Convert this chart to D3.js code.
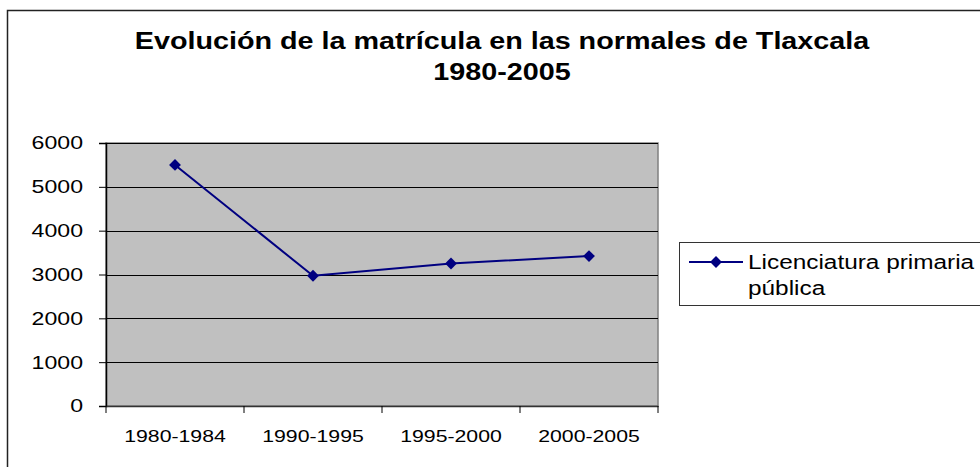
<!DOCTYPE html>
<html lang="es">
<head>
<meta charset="utf-8">
<title>Evolución de la matrícula</title>
<style>
  body { margin: 0; background: #fff; }
  svg text { font-family: "Liberation Sans", Arial, sans-serif; fill: #000; }
</style>
</head>
<body>
<svg></svg>
<script src="https://d3js.org/d3.v7.min.js"></script>
<script>
// data
var periods = ["1980-1984", "1990-1995", "1995-2000", "2000-2005"];
var matricula = [5500, 2970, 3250, 3420];
var yTicks = [0, 1000, 2000, 3000, 4000, 5000, 6000];
var seriesName = ["Licenciatura primaria", "pública"];
var titleLines = ["Evolución de la matrícula en las normales de Tlaxcala", "1980-2005"];

var width = 980, height = 467;
// the original picture is stretched sideways, text is widened to match
var stretch = 1.25;

var svg = d3.select("svg").attr("width", width).attr("height", height);

// outer chart border (runs off the right and bottom)
svg.append("rect")
  .attr("x", 7.5).attr("y", 10.5)
  .attr("width", 1000).attr("height", 500)
  .attr("fill", "#fff").attr("stroke", "#222").attr("stroke-width", 1.5);

var plot = { left: 106, top: 143, right: 658, bottom: 406 };

var x = d3.scaleBand().domain(periods).range([plot.left, plot.right]);
var y = d3.scaleLinear().domain([0, 6000]).range([plot.bottom, plot.top]);

// plot area
svg.append("rect")
  .attr("x", plot.left).attr("y", plot.top)
  .attr("width", plot.right - plot.left).attr("height", plot.bottom - plot.top)
  .attr("fill", "#c0c0c0").attr("stroke", "#808080").attr("stroke-width", 1.5);

// gridlines
svg.append("g").selectAll("line")
  .data(yTicks.filter(function(d) { return d > 0; }))
  .enter().append("line")
  .attr("x1", plot.left).attr("x2", plot.right)
  .attr("y1", function(d) { return Math.round(y(d)) + 0.5; })
  .attr("y2", function(d) { return Math.round(y(d)) + 0.5; })
  .attr("stroke", "#000").attr("stroke-width", 1);

// y axis
var yAxis = svg.append("g")
  .attr("transform", "translate(" + plot.left + ",0)")
  .call(d3.axisLeft(y).tickValues(yTicks).tickSize(7).tickPadding(11.4).tickFormat(d3.format("d")));
yAxis.select(".domain").attr("stroke", "#000").attr("stroke-width", 1.5);
yAxis.selectAll(".tick line").attr("stroke", "#000");
yAxis.selectAll("text")
  .attr("font-size", "18.5px")
  .attr("transform", "scale(" + stretch + ",1)")
  .attr("font-family", "Liberation Sans, Arial, sans-serif")
  .attr("fill", "#000");

// x axis
var xAxis = svg.append("g")
  .attr("transform", "translate(0," + plot.bottom + ")")
  .call(d3.axisBottom(x).tickSize(0).tickPadding(24));
xAxis.select(".domain").attr("stroke", "#333").attr("stroke-width", 1.5);
xAxis.selectAll("text")
  .attr("font-size", "17px")
  .attr("transform", "scale(" + stretch + ",1)")
  .attr("font-family", "Liberation Sans, Arial, sans-serif")
  .attr("fill", "#000");
// category boundary ticks
xAxis.append("g").selectAll("line")
  .data(periods.concat(["end"]))
  .enter().append("line")
  .attr("x1", function(d, i) { return plot.left + i * x.step(); })
  .attr("x2", function(d, i) { return plot.left + i * x.step(); })
  .attr("y1", 0).attr("y2", 7)
  .attr("stroke", "#000");

// series line
var pts = periods.map(function(p, i) { return [x(p) + x.bandwidth() / 2, y(matricula[i])]; });
svg.append("path")
  .attr("d", d3.line()(pts))
  .attr("fill", "none").attr("stroke", "#000080").attr("stroke-width", 2);

var diamond = d3.symbol().type(d3.symbolDiamond2).size(90);
svg.append("g").selectAll("path")
  .data(pts)
  .enter().append("path")
  .attr("d", diamond)
  .attr("transform", function(d) { return "translate(" + d[0] + "," + d[1] + ")"; })
  .attr("fill", "#000080");

// title
svg.append("g").selectAll("text")
  .data(titleLines)
  .enter().append("text")
  .attr("transform", function(d, i) {
    return "translate(502," + (49 + i * 31) + ") scale(" + stretch + ",1)";
  })
  .attr("text-anchor", "middle")
  .attr("font-size", "23px").attr("font-weight", "bold")
  .text(function(d) { return d; });

// legend
var legend = svg.append("g");
legend.append("rect")
  .attr("x", 679.5).attr("y", 242.5).attr("width", 400).attr("height", 63)
  .attr("fill", "#fff").attr("stroke", "#333").attr("stroke-width", 1);
legend.append("line")
  .attr("x1", 689).attr("x2", 743).attr("y1", 262).attr("y2", 262)
  .attr("stroke", "#000080").attr("stroke-width", 2);
legend.append("path")
  .attr("d", diamond).attr("transform", "translate(716,262)").attr("fill", "#000080");
legend.selectAll("text.lg")
  .data(seriesName)
  .enter().append("text")
  .attr("class", "lg")
  .attr("transform", function(d, i) {
    return "translate(748," + (269 + i * 26) + ") scale(" + stretch + ",1)";
  })
  .attr("font-size", "19.5px")
  .text(function(d) { return d; });
</script>
</body>
</html>
